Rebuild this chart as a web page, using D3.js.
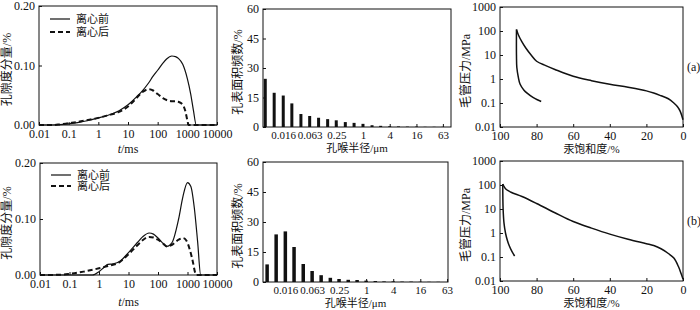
<!DOCTYPE html>
<meta charset="utf-8">
<script src="https://cdn.jsdelivr.net/npm/d3@7"></script>
<style>
body { margin: 0; background: #fff; }
</style>
<body>
<svg id="chart" width="700" height="310"></svg>
<script>
// ---- data ----
// T2 spectra, sample a
var tBeforeA = [0.01, 0.03, 0.05, 0.1, 0.2, 0.5, 1, 2, 5, 10, 20, 30, 50, 70, 100, 150, 200, 300, 400, 500, 700, 1000, 1300, 1600, 2000, 10000];
var vBeforeA = [0, 0, 0.0005, 0.002, 0.004, 0.008, 0.012, 0.016, 0.024, 0.034, 0.048, 0.057, 0.071, 0.082, 0.092, 0.104, 0.111, 0.116, 0.115, 0.112, 0.102, 0.078, 0.052, 0.025, 0, 0];
var tAfterA = [0.01, 0.03, 0.05, 0.1, 0.2, 0.5, 1, 2, 5, 10, 20, 30, 50, 70, 100, 150, 200, 300, 400, 500, 700, 850, 1000, 1100, 10000];
var vAfterA = [0, 0, 0.001, 0.003, 0.005, 0.009, 0.012, 0.016, 0.022, 0.031, 0.046, 0.055, 0.060, 0.058, 0.052, 0.045, 0.042, 0.040, 0.040, 0.039, 0.034, 0.024, 0.008, 0, 0];
// T2 spectra, sample b
var tBeforeB = [0.01, 0.6, 1, 1.5, 2, 3, 5, 10, 20, 30, 50, 70, 100, 150, 200, 300, 500, 700, 1000, 1300, 1700, 2200, 2800, 10000];
var vBeforeB = [0, 0, 0.006, 0.014, 0.019, 0.020, 0.024, 0.040, 0.058, 0.068, 0.075, 0.073, 0.066, 0.056, 0.051, 0.058, 0.100, 0.140, 0.165, 0.158, 0.120, 0.060, 0, 0];
var tAfterB = [0.01, 0.05, 0.1, 0.3, 1, 2, 5, 10, 20, 30, 50, 70, 100, 150, 200, 300, 500, 700, 900, 1200, 1500, 1800, 2000, 10000];
var vAfterB = [0, 0.0005, 0.002, 0.006, 0.012, 0.016, 0.023, 0.037, 0.053, 0.062, 0.068, 0.067, 0.063, 0.056, 0.051, 0.054, 0.063, 0.066, 0.062, 0.045, 0.025, 0.005, 0, 0];

// pore throat radius bins (um) and surface area frequency (%)
var radius = [0.0063, 0.01, 0.016, 0.025, 0.04, 0.063, 0.1, 0.16, 0.25, 0.4, 0.63, 1, 1.6, 2.5, 4, 6.3, 10, 16, 25, 40, 63];
var freqA = [24.5, 17.4, 16.0, 12.0, 6.6, 5.6, 4.7, 4.0, 3.4, 2.5, 2.1, 1.6, 0.9, 0.6, 0.4, 0.3, 0.2, 0.2, 0.1, 0.1, 0.1];
var freqB = [8.8, 23.8, 25.3, 17.5, 9.0, 5.5, 3.4, 2.1, 1.5, 1.1, 1.0, 0.7, 0.5, 0.3, 0.3, 0.2, 0.2, 0.1, 0.1, 0.1];
var radiusTicks = [0.016, 0.063, 0.25, 1, 4, 16, 63];

// capillary pressure curves: mercury saturation (%) / pressure (MPa)
var swInjA = [0, 1.5, 3, 5, 8, 12, 16, 20, 30, 40, 50, 60, 70, 75, 80, 83, 86, 88, 90, 91];
var pcInjA = [0.02, 0.045, 0.07, 0.1, 0.15, 0.2, 0.26, 0.32, 0.45, 0.6, 0.85, 1.3, 2.5, 3.6, 5.5, 10, 20, 35, 70, 115];
var swWdA = [91, 91, 90.8, 90, 89, 87, 85, 82, 79, 77.5];
var pcWdA = [115, 10, 3, 1.2, 0.6, 0.35, 0.25, 0.17, 0.13, 0.115];
var swInjB = [0, 1, 2.5, 5, 8, 12, 16, 20, 30, 40, 50, 60, 70, 80, 88, 94, 97, 98.5];
var pcInjB = [0.012, 0.02, 0.04, 0.09, 0.14, 0.22, 0.3, 0.36, 0.55, 0.9, 1.6, 3, 7, 17, 33, 50, 70, 110];
var swWdB = [98.5, 98.3, 97.8, 97, 96, 95, 93.5, 92];
var pcWdB = [110, 10, 2.5, 1, 0.5, 0.3, 0.17, 0.11];

var FONT = "'Liberation Serif', 'Noto Sans CJK SC', serif";
var svg = d3.select("#chart");

function zip(a, b) { return a.map(function(d, i) { return [d, b[i]]; }); }

function frame(g, box) {
  g.append("rect")
    .attr("x", box.l).attr("y", box.t)
    .attr("width", box.r - box.l).attr("height", box.b - box.t)
    .attr("fill", "none").attr("stroke", "#111").attr("stroke-width", 1);
}

function axes(g, box, x, y, xt, xl, yt, yl, xfs) {
  var ax = g.append("g").attr("transform", "translate(0," + box.b + ")")
    .call(d3.axisBottom(x).tickValues(xt).tickFormat(function(d, i) { return xl[i]; })
      .tickSizeInner(-3).tickSizeOuter(0).tickPadding(4));
  var ay = g.append("g").attr("transform", "translate(" + box.l + ",0)")
    .call(d3.axisLeft(y).tickValues(yt).tickFormat(function(d, i) { return yl[i]; })
      .tickSizeInner(-3).tickSizeOuter(0).tickPadding(4));
  [ax, ay].forEach(function(a) {
    a.attr("font-family", FONT).attr("font-size", 12);
    a.select(".domain").remove();
    a.selectAll("text").attr("fill", "#111");
    a.selectAll("line").attr("stroke", "#111");
  });
  if (xfs) ax.attr("font-size", xfs);
}

function txt(g) {
  return g.append("text").attr("font-family", FONT).attr("font-size", 12).attr("fill", "#111");
}

function titles(g, box, xt, xy, yt, yx, italicT) {
  var tx = txt(g).attr("x", (box.l + box.r) / 2).attr("y", xy).attr("text-anchor", "middle")
    .attr("font-size", 11);
  if (italicT) {
    tx.attr("font-size", 12);
    tx.append("tspan").style("font-style", "italic").text("t");
    tx.append("tspan").text("/ms");
  } else tx.text(xt);
  txt(g).attr("transform", "translate(" + yx + "," + ((box.t + box.b) / 2 + 4) + ") rotate(-90)")
    .attr("text-anchor", "middle").attr("dominant-baseline", "central").text(yt);
}

function t2Panel(box, tb, vb, ta, va, legY, xTitleY) {
  var g = svg.append("g");
  var x = d3.scaleLog().domain([0.01, 10000]).range([box.l, box.r]);
  var y = d3.scaleLinear().domain([0, 0.2]).range([box.b, box.t]);
  var line = d3.line().x(function(d) { return x(d[0]); }).y(function(d) { return y(d[1]); })
    .curve(d3.curveMonotoneX);
  g.append("path").datum(zip(tb, vb)).attr("d", line)
    .attr("fill", "none").attr("stroke", "#111").attr("stroke-width", 1.2);
  g.append("path").datum(zip(ta, va)).attr("d", line)
    .attr("fill", "none").attr("stroke", "#111").attr("stroke-width", 2).attr("stroke-dasharray", "5,3");
  frame(g, box);
  axes(g, box, x, y, [0.01, 0.1, 1, 10, 100, 1000, 10000],
    ["0.01", "0.1", "1", "10", "100", "1000", "10000"],
    [0, 0.1, 0.2], ["0.00", "0.10", "0.20"]);
  titles(g, box, "", xTitleY, "孔隙度分量/%", 7, true);
  // legend
  var names = ["离心前", "离心后"];
  names.forEach(function(n, i) {
    var ly = legY[i];
    g.append("line").attr("x1", box.l + 11).attr("x2", box.l + 31).attr("y1", ly).attr("y2", ly)
      .attr("stroke", "#111").attr("stroke-width", i ? 2 : 1.2).attr("stroke-dasharray", i ? "5,3" : null);
    txt(g).attr("x", box.l + 37).attr("y", ly).attr("dominant-baseline", "central")
      .attr("font-size", 11).text(n);
  });
}

function barPanel(box, freq, dom, xTitleY, bw) {
  var g = svg.append("g");
  var x = d3.scaleLog().domain(dom).range([box.l, box.r]);
  var y = d3.scaleLinear().domain([0, 60]).range([box.b, box.t]);
  g.selectAll("rect.bar").data(freq).enter().append("rect").attr("class", "bar")
    .attr("x", function(d, i) { return x(radius[i]) - bw / 2; })
    .attr("width", bw)
    .attr("y", function(d) { return y(d); })
    .attr("height", function(d) { return box.b - y(d); })
    .attr("fill", "#111");
  frame(g, box);
  axes(g, box, x, y, radiusTicks, radiusTicks.map(String),
    [0, 15, 30, 45, 60], ["0", "15", "30", "45", "60"], 11);
  titles(g, box, "孔喉半径/μm", xTitleY, "孔表面积频数/%", 238, false);
}

function pcPanel(box, si, pi, sw, pw, tag, xTitleY) {
  var g = svg.append("g");
  var x = d3.scaleLinear().domain([100, 0]).range([box.l, box.r]);
  var y = d3.scaleLog().domain([0.01, 1000]).range([box.b, box.t]);
  var line = d3.line().x(function(d) { return x(d[0]); }).y(function(d) { return y(d[1]); })
    .curve(d3.curveCatmullRom);
  [zip(si, pi), zip(sw, pw)].forEach(function(dat) {
    g.append("path").datum(dat).attr("d", line)
      .attr("fill", "none").attr("stroke", "#111").attr("stroke-width", 1.5);
  });
  frame(g, box);
  axes(g, box, x, y, [100, 80, 60, 40, 20, 0], ["100", "80", "60", "40", "20", "0"],
    [0.01, 0.1, 1, 10, 100, 1000], ["0.01", "0.1", "1", "10", "100", "1000"]);
  titles(g, box, "汞饱和度/%", xTitleY, "毛管压力/MPa", 466, false);
  txt(g).attr("x", 687).attr("y", (box.t + box.b) / 2 + 4).text(tag);
}

t2Panel({l: 39, r: 217, t: 6, b: 125}, tBeforeA, vBeforeA, tAfterA, vAfterA, [19, 32], 153);
t2Panel({l: 40, r: 217, t: 163, b: 275}, tBeforeB, vBeforeB, tAfterB, vAfterB, [175, 186], 306);
barPanel({l: 263, r: 451, t: 9, b: 127}, freqA, [0.0056, 96], 152, 3);
barPanel({l: 263, r: 448, t: 162, b: 282}, freqB, [0.0051, 66], 307, 3.5);
pcPanel({l: 500, r: 683, t: 7, b: 127}, swInjA, pcInjA, swWdA, pcWdA, "(a)", 153);
pcPanel({l: 500, r: 683, t: 161, b: 281}, swInjB, pcInjB, swWdB, pcWdB, "(b)", 307);
</script>
</body>
